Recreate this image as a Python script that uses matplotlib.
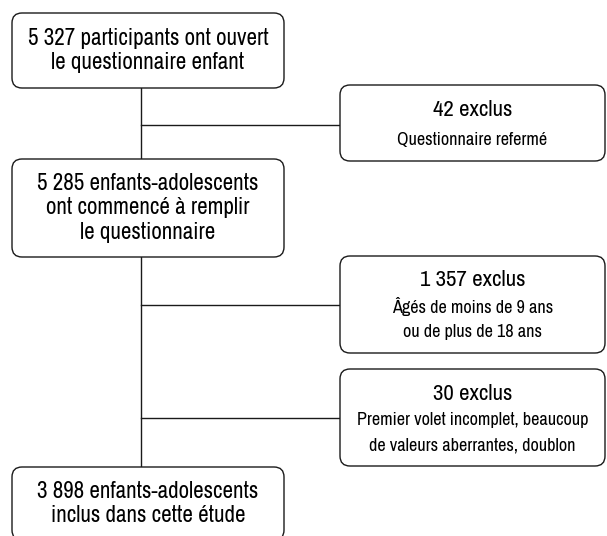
import matplotlib
matplotlib.use("Agg")
import matplotlib.pyplot as plt
from matplotlib.patches import FancyBboxPatch

plt.rcParams['font.family'] = ['Archivo Narrow', 'Liberation Sans Narrow', 'DejaVu Sans']

# texte des boites principales
main_texts = [
    ["5 327 participants ont ouvert", "le questionnaire enfant"],
    ["5 285 enfants-adolescents", "ont commencé à remplir", "le questionnaire"],
    ["3 898 enfants-adolescents", "inclus dans cette étude"],
]
# boites d'exclusion : titre + détail
excl_titles = ["42 exclus", "1 357 exclus", "30 exclus"]
excl_details = [
    ["Questionnaire refermé"],
    ["Âgés de moins de 9 ans", "ou de plus de 18 ans"],
    ["Premier volet incomplet, beaucoup", "de valeurs aberrantes, doublon"],
]

# mise en page (pixels)
main_boxes = [(12, 13, 284, 88), (12, 159, 284, 257), (12, 467, 284, 540)]
excl_boxes = [(340, 85, 605, 161), (340, 256, 605, 353), (340, 369, 605, 466)]
spine_x = 141
branch_y = [125, 305, 418]
col = '#1a1a1a'
lh = 24.5

fig = plt.figure(figsize=(6.07, 5.36), dpi=100)
ax = fig.add_axes([0, 0, 1, 1])
ax.set_xlim(0, 607)
ax.set_ylim(536, 0)
ax.axis('off')
renderer = fig.canvas.get_renderer()

def box(x0, y0, x1, y1):
    p = FancyBboxPatch((x0, y0), x1 - x0, y1 - y0,
                       boxstyle="round,pad=0,rounding_size=10",
                       fc='white', ec=col, lw=1.0, zorder=2)
    ax.add_patch(p)

def put(x, y, t, fs, maxw):
    tx = ax.text(x, y, t, ha='center', va='center', fontsize=fs, color='black', zorder=3)
    # si la police de secours est trop large, on réduit
    w = tx.get_window_extent(renderer).width
    if w > maxw:
        tx.set_fontsize(fs * maxw / w)
    return tx

# lignes de liaison
ax.plot([spine_x, spine_x], [main_boxes[0][3], main_boxes[1][1]], color=col, lw=1.0, zorder=1)
ax.plot([spine_x, spine_x], [main_boxes[1][3], main_boxes[2][1]], color=col, lw=1.0, zorder=1)
for yb in branch_y:
    ax.plot([spine_x, 340], [yb, yb], color=col, lw=1.0, zorder=1)

offs_main = [0, 0, 0]
for (x0, y0, x1, y1), lines, off in zip(main_boxes, main_texts, offs_main):
    box(x0, y0, x1, y1)
    cx = (x0 + x1) / 2
    cy = (y0 + y1) / 2 + off
    n = len(lines)
    for i, t in enumerate(lines):
        put(cx, cy + (i - (n - 1) / 2) * lh, t, 16.6, x1 - x0 - 12)

for (x0, y0, x1, y1), title, det in zip(excl_boxes, excl_titles, excl_details):
    box(x0, y0, x1, y1)
    cx = (x0 + x1) / 2
    cy = (y0 + y1) / 2 + 2
    lines = [title] + det
    n = len(lines)
    step = 30 if n == 2 else 26
    for i, t in enumerate(lines):
        y = cy + (i - (n - 1) / 2) * step
        put(cx, y, t, 16.5 if i == 0 else 13.1, x1 - x0 - 10)

fig.savefig('out.png', dpi=100)
